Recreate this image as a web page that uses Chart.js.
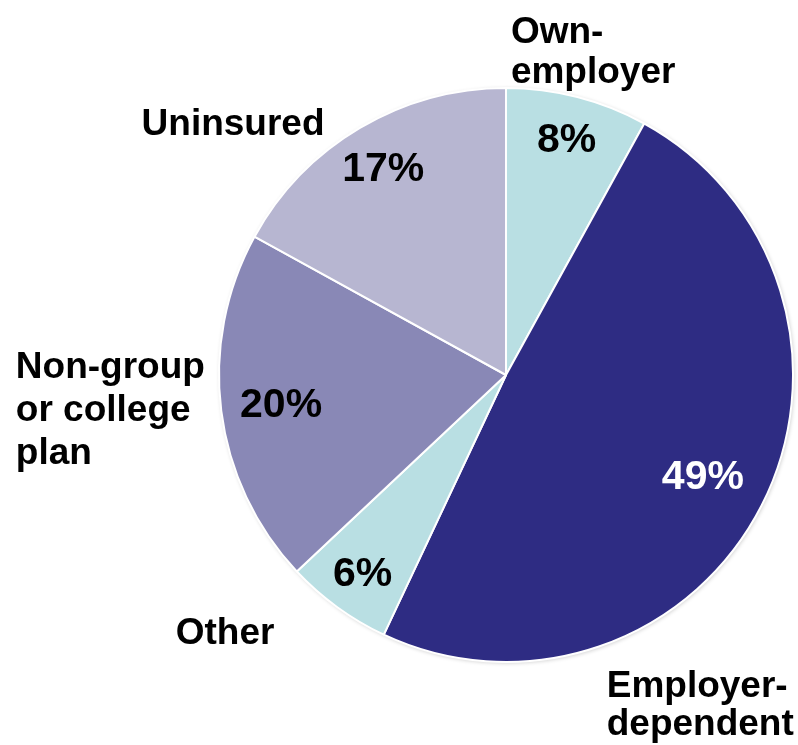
<!DOCTYPE html>
<html lang="en">
  <head>
    <meta charset="UTF-8" />
    <title>Coverage pie</title>
    <script src="https://cdn.jsdelivr.net/npm/chart.js@4"></script>
    <style>
      body { margin: 0; background: #fff; }
      #wrap { width: 798px; height: 745px; position: relative; }
    </style>
  </head>
  <body>
    <div id="wrap"><canvas id="pieChart"></canvas></div>

    <script>
      // slices clockwise from 12 o'clock
      const categories = ['Own-\nemployer', 'Employer-\ndependent', 'Other', 'Non-group\nor college\nplan', 'Uninsured'];
      const shares = [8, 49, 6, 20, 17];
      const sliceColors = ['#b9dfe3', '#2e2c83', '#b9dfe3', '#8988b6', '#b7b6d1'];
      const pctColors = ['#000', '#fff', '#000', '#000', '#000'];

      // where the % sits inside each slice (fraction of radius)
      const pctRadius = [0.85, 0.77, 0.85, 0.79, 0.84];
      // outside category labels: offset from centre in radius units, alignment
      const catPlace = [
        { dx: 0.017, dy: -1.158, align: 'left', lh: 40 },
        { dx: 0.351, dy: 1.123, align: 'left', lh: 38 },
        { dx: -0.979, dy: 0.936, align: 'center', lh: 40 },
        { dx: -1.708, dy: 0.009, align: 'left', lh: 43 },
        { dx: -0.951, dy: -0.835, align: 'center', lh: 40 }
      ];

      const FONT = '"Liberation Sans", Arial, sans-serif';

      // soft drop shadow round the whole pie
      const pieShadow = {
        id: 'pieShadow',
        beforeDatasetsDraw(chart) {
          const arc = chart.getDatasetMeta(0).data[0];
          if (!arc) return;
          const ctx = chart.ctx;
          ctx.save();
          ctx.shadowColor = 'rgba(0,0,0,0.22)';
          ctx.shadowBlur = 4;
          ctx.shadowOffsetX = 1;
          ctx.shadowOffsetY = 1;
          ctx.fillStyle = '#fff';
          ctx.beginPath();
          ctx.arc(arc.x, arc.y, arc.outerRadius, 0, Math.PI * 2);
          ctx.fill();
          ctx.restore();
        }
      };

      const sliceLabels = {
        id: 'sliceLabels',
        afterDatasetsDraw(chart) {
          const ctx = chart.ctx;
          const arcs = chart.getDatasetMeta(0).data;
          ctx.save();
          arcs.forEach((arc, i) => {
            const mid = (arc.startAngle + arc.endAngle) / 2;
            const R = arc.outerRadius;
            // percentage inside
            ctx.font = 'bold 41px ' + FONT;
            ctx.fillStyle = pctColors[i];
            ctx.textAlign = 'center';
            ctx.textBaseline = 'middle';
            ctx.fillText(shares[i] + '%',
              arc.x + Math.cos(mid) * pctRadius[i] * R,
              arc.y + Math.sin(mid) * pctRadius[i] * R + 2);
            // category name outside
            const p = catPlace[i];
            ctx.font = 'bold 37px ' + FONT;
            ctx.fillStyle = '#000';
            ctx.textAlign = p.align;
            ctx.textBaseline = 'alphabetic';
            categories[i].split('\n').forEach((line, k) => {
              ctx.fillText(line, arc.x + p.dx * R, arc.y + p.dy * R + k * p.lh);
            });
          });
          ctx.restore();
        }
      };

      window.addEventListener('load', setup);

      function setup() {
        const ctx = document.getElementById('pieChart').getContext('2d');
        new Chart(ctx, {
          type: 'pie',
          data: {
            labels: categories.map(c => c.replace(/\n/g, ' ')),
            datasets: [{
              data: shares,
              backgroundColor: sliceColors,
              borderColor: '#ffffff',
              borderWidth: 2,
              hoverOffset: 0
            }]
          },
          options: {
            responsive: true,
            maintainAspectRatio: false,
            animation: false,
            layout: { padding: { left: 218, right: 4, top: 87, bottom: 82 } },
            plugins: {
              legend: { display: false },
              tooltip: { enabled: false },
              title: { display: false }
            }
          },
          plugins: [pieShadow, sliceLabels]
        });
      }
    </script>
  </body>
</html>
